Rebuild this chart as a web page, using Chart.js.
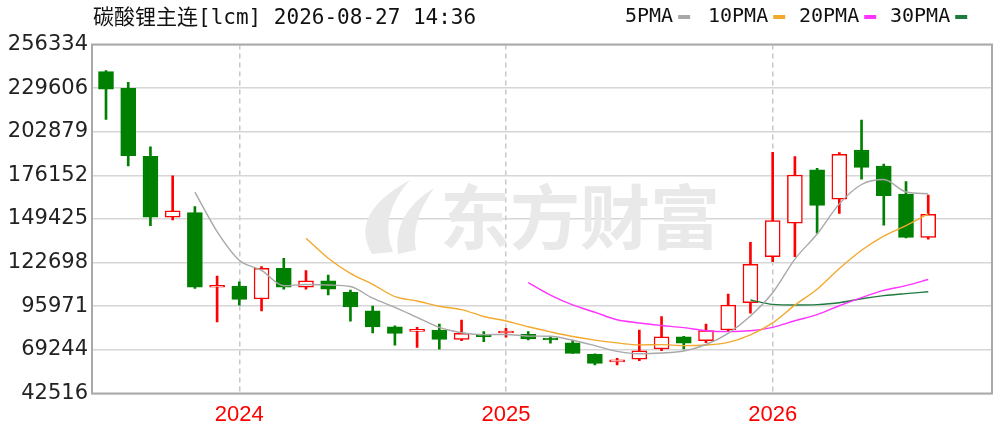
<!DOCTYPE html>
<html><head><meta charset="utf-8">
<script src="https://cdn.jsdelivr.net/npm/chart.js@4.4.1/dist/chart.umd.min.js"></script>
<style>html,body{margin:0;padding:0;background:#fff;}#wrap{width:998px;height:430px;position:relative;}</style>
</head><body><div id="wrap"><canvas id="c"></canvas></div>
<script>
const titleText = '碳酸锂主连[lcm] 2026-08-27 14:36';
const categories = ['2023-07','2023-08','2023-09','2023-10','2023-11','2023-12',
  '2024-01','2024-02','2024-03','2024-04','2024-05','2024-06','2024-07','2024-08','2024-09','2024-10','2024-11','2024-12',
  '2025-01','2025-02','2025-03','2025-04','2025-05','2025-06','2025-07','2025-08','2025-09','2025-10','2025-11','2025-12',
  '2026-01','2026-02','2026-03','2026-04','2026-05','2026-06','2026-07','2026-08'];
const openV  = [239700,229500,187800,150500,153300,107600,108400,100400,119200,107600,111600,104500,93100,83400,80600,81400,75700,78800,79600,78800,75700,73600,66500,61900,63500,69800,77300,74900,81400,98100,126300,146800,179500,161500,191700,181900,164700,138200];
const highV  = [240300,233200,193700,175800,157000,114500,111000,120200,125400,117800,115100,105900,96100,83900,83100,85100,87500,80400,82500,80400,77000,75300,66800,64100,81400,89600,77600,85100,103500,135200,190300,187600,180500,190100,210100,183100,172300,164100];
const lowV   = [210500,181900,145300,148800,106900,86300,96700,93100,106400,106400,102900,86900,79600,72200,70800,69600,74900,74300,77000,75300,73300,67100,60000,60000,62600,68700,69800,73600,80400,91700,123300,126300,140700,152900,173800,145600,137900,137000];
const closeV = [228900,188200,150500,154500,107600,108000,100200,119200,107600,111600,106400,95500,83300,79400,81000,75700,79400,77300,80000,75900,75300,67100,61000,62400,68700,77300,73300,81000,96700,121700,148400,176400,157800,189100,181100,163700,138200,152300];
const ma5  = [null,null,null,null,165940,141760,124160,117900,108520,109320,109000,108060,100880,95240,89120,82980,79760,78560,78680,77660,77580,75120,71860,68340,66900,67300,68540,72540,79400,90000,104220,124840,140200,158680,170560,173620,165980,164880];
const ma10 = [null,null,null,null,null,null,null,null,null,137630,125380,116110,109390,101880,99220,95990,93910,89720,86960,83390,80280,77440,75210,73510,72280,72440,71830,72200,73870,78450,85760,96690,106370,119040,130280,138920,145410,152540];
const ma20 = [null,null,null,null,null,null,null,null,null,null,null,null,null,null,null,null,null,null,null,110510,102830,96775,92300,87695,85750,84215,82870,80960,80415,80920,83020,87065,90790,96275,101280,105680,108620,112370];
const ma30 = [null,null,null,null,null,null,null,null,null,null,null,null,null,null,null,null,null,null,null,null,null,null,null,null,null,null,null,null,null,99823,97140,96747,96990,98143,100593,102450,103717,104820];
const yTicks = [42516,69244,95971,122698,149425,176152,202879,229606,256334];
const xTickMonths = ['2024-01','2025-01','2026-01'];
const xTickLabels = ['2024','2025','2026'];
const legendNames = ['5PMA','10PMA','20PMA','30PMA'];

const RED = '#ff0000', GREEN = '#008000';
const maColors = ['#a8a8a8','#f2a92e','#ff33ff','#1f7a3f'];
const xTickIdx = xTickMonths.map(m => categories.indexOf(m));
const idx = categories.map((_, i) => i);
const up = idx.map(i => closeV[i] >= openV[i]);
const toLine = arr => arr.map((v, i) => v == null ? null : {x: i, y: v}).filter(Boolean);

const decor = {
  id: 'decor',
  beforeDatasetsDraw(chart) {
    const ctx = chart.ctx;
    ctx.save();
    ctx.fillStyle = '#e9e9e9';
    ctx.beginPath();
    ctx.moveTo(372, 254);
    ctx.quadraticCurveTo(348, 214, 410, 180);
    ctx.quadraticCurveTo(378, 216, 393, 252);
    ctx.closePath(); ctx.fill();
    ctx.beginPath();
    ctx.moveTo(398, 254);
    ctx.quadraticCurveTo(392, 214, 434, 188);
    ctx.quadraticCurveTo(410, 222, 416, 250);
    ctx.closePath(); ctx.fill();
    ctx.font = 'bold 70px "Noto Sans CJK SC"';
    ctx.textBaseline = 'middle';
    ctx.textAlign = 'left';
    ctx.fillText('东方财富', 440, 217);
    ctx.restore();
  },
  afterDraw(chart) {
    const ctx = chart.ctx, a = chart.chartArea;
    ctx.save();
    ctx.strokeStyle = '#a9a9a9';
    ctx.lineWidth = 2;
    ctx.strokeRect(a.left, a.top, a.right - a.left, a.bottom - a.top);
    ctx.fillStyle = '#111';
    ctx.textBaseline = 'middle';
    ctx.textAlign = 'left';
    ctx.font = '21px "DejaVu Sans Mono", "Noto Sans CJK SC"';
    ctx.fillText(titleText, 93, 19);
    const lx = [625, 708, 799, 890];
    ctx.font = '20px "DejaVu Sans Mono"';
    legendNames.forEach((n, i) => {
      ctx.fillStyle = '#111';
      ctx.fillText(n, lx[i], 17);
      const w = ctx.measureText(n).width;
      ctx.fillStyle = maColors[i];
      ctx.fillRect(lx[i] + w + 5, 15, 12, 4);
    });
    ctx.restore();
  }
};

new Chart(document.getElementById('c'), {
  type: 'bar',
  data: {
    datasets: [
      ...[ma5, ma10, ma20, ma30].map((arr, k) => ({
        type: 'line', label: legendNames[k], data: toLine(arr),
        borderColor: maColors[k], borderWidth: 1.4, pointRadius: 0,
        cubicInterpolationMode: 'monotone', order: 1
      })),
      {
        type: 'bar', label: 'body', data: idx.map(i => ({x: i, y: [openV[i], closeV[i]]})),
        backgroundColor: idx.map(i => up[i] ? '#ffffff' : GREEN),
        borderColor: idx.map(i => up[i] ? RED : GREEN),
        borderWidth: 1.5, borderSkipped: false, barThickness: 15, minBarLength: 2,
        grouped: false, order: 3
      },
      {
        type: 'bar', label: 'wick', data: idx.map(i => ({x: i, y: [lowV[i], highV[i]]})),
        backgroundColor: idx.map(i => up[i] ? RED : GREEN),
        borderWidth: 0, barThickness: 2, grouped: false, order: 4
      }
    ]
  },
  options: {
    responsive: true, maintainAspectRatio: false, animation: false, devicePixelRatio: 1,
    layout: {padding: {top: 44.5, right: 6, bottom: 0, left: 0}},
    plugins: {legend: {display: false}, tooltip: {enabled: false}},
    scales: {
      x: {
        type: 'linear', min: -0.63, max: 39.87, offset: false,
        afterBuildTicks: s => { s.ticks = xTickIdx.map(v => ({value: v})); },
        afterFit: s => { s.height = 36.5; },
        ticks: {
          callback: v => { const k = xTickIdx.indexOf(v); return k >= 0 ? xTickLabels[k] : ''; },
          color: RED, font: {family: 'Liberation Sans', size: 22}, padding: 8, maxRotation: 0, autoSkip: false
        },
        grid: {color: '#c8c8c8', lineWidth: 1.5, drawTicks: false, offset: false},
        border: {display: false, dash: [5, 4]}
      },
      y: {
        type: 'linear', min: yTicks[0], max: yTicks[yTicks.length - 1],
        afterBuildTicks: s => { s.ticks = yTicks.map(v => ({value: v})); },
        afterFit: s => { s.width = 92; },
        ticks: {callback: v => String(v), color: '#222', font: {family: 'DejaVu Sans', size: 21}, padding: 4},
        grid: {color: '#d6d6d6', lineWidth: 1.5, drawTicks: false},
        border: {display: false}
      }
    }
  },
  plugins: [decor]
});
</script></body></html>
